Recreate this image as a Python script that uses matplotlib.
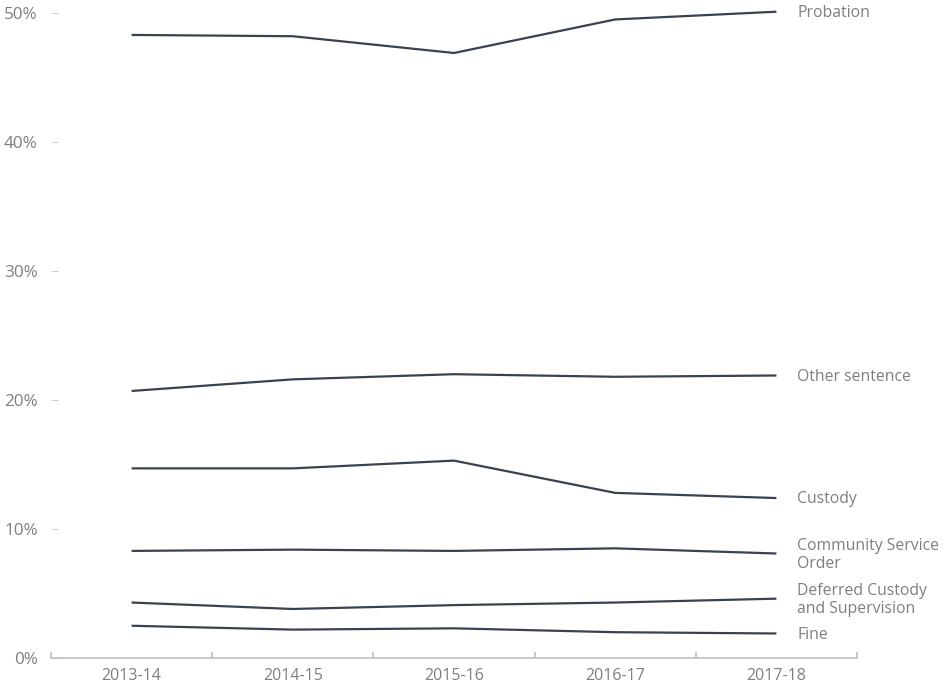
import matplotlib.pyplot as plt
import matplotlib.ticker as mticker

years = ["2013-14", "2014-15", "2015-16", "2016-17", "2017-18"]
probation = [48.3, 48.2, 46.9, 49.5, 50.1]
other_sentence = [20.7, 21.6, 22.0, 21.8, 21.9]
custody = [14.7, 14.7, 15.3, 12.8, 12.4]
community_service = [8.3, 8.4, 8.3, 8.5, 8.1]
deferred_custody = [4.3, 3.8, 4.1, 4.3, 4.6]
fine = [2.5, 2.2, 2.3, 2.0, 1.9]

series = [
    ("Probation", probation),
    ("Other sentence", other_sentence),
    ("Custody", custody),
    ("Community Service\nOrder", community_service),
    ("Deferred Custody\nand Supervision", deferred_custody),
    ("Fine", fine),
]

plt.rcParams['font.family'] = ['Open Sans', 'DejaVu Sans']

line_col = "#3a4250"
text_col = "#7f7f7f"
axis_col = "#bfbfbf"

fig = plt.figure(figsize=(9.43, 6.94), dpi=100)
ax = fig.add_axes([51 / 943, 1 - 658 / 694, 806 / 943, 645 / 694])

x = range(len(years))
for name, vals in series:
    ax.plot(x, vals, color=line_col, lw=1.6, solid_capstyle='butt', clip_on=False)
    ax.annotate(name, xy=(len(years) - 1, vals[-1]), xytext=(15, -1),
                textcoords='offset points', va='center', ha='left',
                fontsize=11.3, color=text_col, linespacing=1.12,
                annotation_clip=False)

ax.set_xlim(-0.5, len(years) - 0.5)
ax.set_ylim(0, 50)
ax.set_xticks(list(x))
ax.set_xticklabels(years)
ax.set_xticks([i - 0.5 for i in range(len(years) + 1)], minor=True)
ax.yaxis.set_major_locator(mticker.MultipleLocator(10))
ax.yaxis.set_major_formatter(mticker.FuncFormatter(lambda v, p: f"{v:.0f}%"))

for s in ["top", "right", "left"]:
    ax.spines[s].set_visible(False)
ax.spines["bottom"].set_color(axis_col)
ax.spines["bottom"].set_linewidth(1.2)

ax.tick_params(axis='x', which='major', length=0, pad=7, labelsize=11.5, labelcolor=text_col)
ax.tick_params(axis='x', which='minor', length=4, direction='in', color=axis_col, width=1.2)
ax.tick_params(axis='y', length=5, color="#d0d0d0", pad=9.5, labelsize=12.3, labelcolor=text_col, direction='in')

fig.savefig("out.png", dpi=100)
